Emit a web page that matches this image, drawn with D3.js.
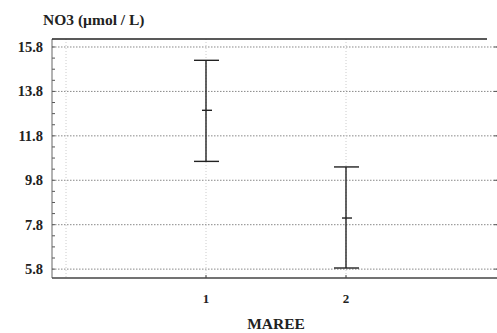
<!DOCTYPE html>
<html lang="fr">
<head>
<meta charset="UTF-8">
<script src="https://d3js.org/d3.v7.min.js"></script>
<style>
  body { margin: 0; background: #fff; }
  text { font-family: "Liberation Serif", "DejaVu Serif", serif; font-weight: bold; fill: #222; }
</style>
</head>
<body>
<div id="chart"></div>
<script>
// data
const groups = [1, 2];
const means = [12.95, 8.1];
const upper = [15.2, 10.4];
const lower = [10.65, 5.85];
const yTicks = [5.8, 7.8, 9.8, 11.8, 13.8, 15.8];

const w = 497, h = 333;
const padL = 52, padT = 39, padB = 278, padR = 487;

const svg = d3.select("#chart").append("svg")
    .attr("width", w).attr("height", h);

const x = d3.scaleLinear().domain([0, 3]).range([66, 486]);
const y = d3.scaleLinear().domain([5.4, 16.16]).range([padB, padT]);

// horizontal grid (dotted)
svg.append("g").selectAll("line")
   .data(yTicks)
   .enter().append("line")
   .attr("x1", padL).attr("x2", w)
   .attr("y1", d => y(d)).attr("y2", d => y(d))
   .attr("stroke", "#888").attr("stroke-width", 1)
   .attr("stroke-dasharray", "1.5,1.5");

// vertical grid
svg.append("g").selectAll("line")
   .data([0].concat(groups))
   .enter().append("line")
   .attr("x1", d => x(d)).attr("x2", d => x(d))
   .attr("y1", padT).attr("y2", padB)
   .attr("stroke", "#ccc").attr("stroke-width", 1)
   .attr("stroke-dasharray", "1,2");

// left axis with minor ticks pointing inward
const minor = d3.range(5.8, 16.1, 0.5);
svg.append("g").selectAll("line")
   .data(minor)
   .enter().append("line")
   .attr("x1", padL).attr("x2", padL + 3)
   .attr("y1", d => y(d)).attr("y2", d => y(d))
   .attr("stroke", "#555");

svg.append("line")
   .attr("x1", padL).attr("x2", padL)
   .attr("y1", padT).attr("y2", padB)
   .attr("stroke", "#666").attr("stroke-width", 1);

// top border, bottom axis
svg.append("line")
   .attr("x1", padL).attr("x2", padR)
   .attr("y1", padT).attr("y2", padT)
   .attr("stroke", "#222").attr("stroke-width", 1.6);
svg.append("line")
   .attr("x1", padL).attr("x2", w)
   .attr("y1", padB).attr("y2", padB)
   .attr("stroke", "#444").attr("stroke-width", 1.3);

// right side minor marks
svg.append("g").selectAll("line")
   .data(yTicks)
   .enter().append("line")
   .attr("x1", w - 3).attr("x2", w)
   .attr("y1", d => y(d)).attr("y2", d => y(d))
   .attr("stroke", "#555");

// y labels
svg.append("g").selectAll("text")
   .data(yTicks)
   .enter().append("text")
   .attr("x", 43).attr("y", d => y(d) + 5)
   .attr("text-anchor", "end")
   .style("font-size", "14.5px")
   .text(d => d.toFixed(1));

// x ticks and labels
svg.append("g").selectAll("line")
   .data(groups)
   .enter().append("line")
   .attr("x1", d => x(d)).attr("x2", d => x(d))
   .attr("y1", padB).attr("y2", padB - 3)
   .attr("stroke", "#444");
svg.append("g").selectAll("text")
   .data(groups)
   .enter().append("text")
   .attr("x", d => x(d)).attr("y", 303)
   .attr("text-anchor", "middle")
   .style("font-size", "13px")
   .text(d => d);

// error bars
const bars = svg.append("g").selectAll("g")
   .data(groups.map((g, i) => ({ g, m: means[i], hi: upper[i], lo: lower[i] })))
   .enter().append("g")
   .attr("stroke", "#222").attr("stroke-width", 1.4);

bars.append("line")
   .attr("x1", d => x(d.g)).attr("x2", d => x(d.g))
   .attr("y1", d => y(d.hi)).attr("y2", d => y(d.lo));
bars.append("line")
   .attr("x1", d => x(d.g) - 12).attr("x2", d => x(d.g) + 13)
   .attr("y1", d => y(d.hi)).attr("y2", d => y(d.hi));
bars.append("line")
   .attr("x1", d => x(d.g) - 12).attr("x2", d => x(d.g) + 13)
   .attr("y1", d => y(d.lo)).attr("y2", d => y(d.lo));
bars.append("line")
   .attr("x1", d => x(d.g) - 4).attr("x2", d => x(d.g) + 6)
   .attr("y1", d => y(d.m)).attr("y2", d => y(d.m));

// titles
svg.append("text")
   .attr("x", 43).attr("y", 25)
   .style("font-size", "15.5px")
   .text("NO3 (µmol / L)");
svg.append("text")
   .attr("x", 276).attr("y", 329)
   .attr("text-anchor", "middle")
   .style("font-size", "15.5px")
   .text("MAREE");
</script>
</body>
</html>
